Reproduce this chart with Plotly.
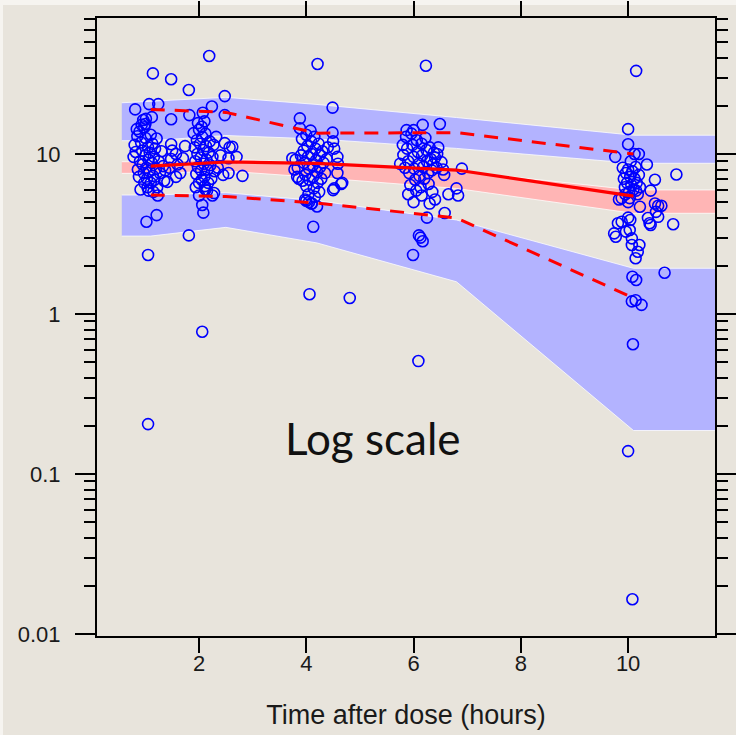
import plotly.graph_objects as go

# ---------------- data ----------------
# simulated prediction-interval bands (vertices in time)
band_t = [0.56, 1.1, 2.5, 4.2, 6.8, 10.1, 11.7]
p05_band_low = [3.07, 3.07, 3.48, 2.78, 1.59, 0.187, 0.187]
p05_band_high = [5.54, 5.54, 5.73, 5.11, 3.87, 1.93, 1.93]
p50_band_low = [7.57, 7.57, 7.83, 7.13, 6.09, 4.26, 4.26]
p50_band_high = [8.95, 8.95, 9.31, 8.79, 7.85, 5.96, 5.96]
p95_band_low = [12.11, 12.11, 13.05, 12.42, 10.84, 8.75, 8.75]
p95_band_high = [20.9, 21.3, 22.6, 20.4, 16.9, 13.1, 13.1]

# observed percentiles
line_t = [1.1, 2.5, 4.2, 6.8, 10.1]
obs_p50 = [8.41, 8.91, 8.75, 7.94, 5.46]
obs_p95 = [19.0, 18.2, 13.5, 13.6, 10.0]
obs_p05 = [5.54, 5.42, 4.94, 3.98, 1.26]

# observations (time, concentration)
obs_time_1 = [1.14, 1.48, 1.81, 0.81, 1.07, 1.24, 1.48, 1.82, 0.96, 1.01, 1.12, 0.93, 0.98, 0.89,
              0.85, 1.21, 1.48, 1.74, 1.57, 1.48, 1.37, 1.57, 1.41, 1.23, 1.21, 1.02, 1.05, 1.05,
              0.80, 0.78, 0.82, 0.86, 0.88, 0.90, 0.92, 0.94, 0.95, 0.97, 0.98, 1.00, 1.00, 1.02,
              1.03, 1.04, 1.05, 1.06, 1.08, 1.08, 1.10, 1.10, 1.12, 1.13, 1.14, 1.16, 1.17, 1.18,
              1.20, 1.22, 1.25, 1.27, 1.30, 1.33, 1.35, 0.91, 1.06, 1.15, 0.84, 1.00, 1.50, 1.60,
              1.45, 1.70, 1.65]
obs_conc_1 = [31.9, 29.3, 25.1, 19.0, 20.5, 20.5, 16.5, 17.5, 16.3, 16.6, 17.0, 15.2, 14.7, 13.8,
              12.9, 12.5, 11.5, 11.2, 10.0, 9.3, 7.9, 7.2, 6.7, 5.5, 4.15, 3.77, 2.34, 0.205,
              11.4, 9.6, 10.3, 8.0, 7.2, 9.0, 11.8, 10.5, 8.6, 7.6, 6.6, 12.6, 9.8, 8.2,
              7.0, 6.2, 11.0, 9.2, 10.2, 7.8, 6.6, 13.2, 8.8, 11.6, 7.3, 9.6, 6.9, 10.8,
              8.1, 6.2, 9.0, 7.6, 10.4, 8.4, 6.8, 6.0, 5.9, 5.8, 14.3, 15.4, 10.5, 8.6,
              8.2, 9.4, 7.6]

obs_time_2 = [2.19, 2.48, 2.07, 2.24, 2.48, 2.05, 2.32, 2.48, 2.57, 2.62, 2.40, 2.55, 2.70, 2.35,
              2.45, 2.55, 2.81, 2.28, 2.06, 2.08, 2.00, 2.12, 2.25, 1.81, 2.06,
              1.90, 1.92, 1.93, 1.95, 1.96, 1.97, 1.98, 2.00, 2.00, 2.02, 2.03, 2.04, 2.05, 2.06,
              2.08, 2.09, 2.10, 2.11, 2.12, 2.13, 2.14, 2.16, 2.17, 2.18, 2.20, 2.21, 2.23, 2.25,
              2.27, 2.29, 1.94, 2.15, 1.98, 2.10]
obs_conc_2 = [41.0, 23.0, 18.1, 19.8, 17.5, 14.8, 12.8, 11.7, 11.0, 11.1, 9.8, 9.4, 9.6, 8.2,
              7.4, 7.6, 7.3, 5.7, 4.8, 4.3, 5.5, 6.0, 5.5, 3.1, 0.775,
              13.5, 11.0, 9.0, 7.5, 12.2, 10.0, 8.3, 6.6, 14.2, 11.6, 9.5, 7.9, 6.9, 12.8,
              10.6, 8.7, 7.2, 6.3, 13.4, 11.2, 9.2, 8.0, 6.6, 10.2, 12.0, 8.5, 7.0, 9.6,
              11.4, 7.8, 6.2, 5.9, 15.6, 16.0]

obs_time_4 = [4.21, 4.49, 3.88, 4.49, 4.50, 4.52, 4.58, 4.59, 3.74, 3.80, 4.58, 4.67, 4.52, 4.13,
              4.06, 4.81, 4.10, 4.50, 4.65, 3.98, 4.05,
              3.88, 3.92, 3.95, 3.96, 3.98, 4.00, 4.00, 4.02, 4.03, 4.05, 4.06, 4.08, 4.09, 4.10,
              4.12, 4.13, 4.14, 4.15, 4.17, 4.18, 4.20, 4.21, 4.23, 4.25, 4.26, 4.28, 4.30, 4.32,
              3.90, 3.93, 4.04, 4.16, 4.24, 3.84, 3.86, 4.35, 4.38, 4.40, 3.78, 3.83, 4.00, 4.10,
              4.20]
obs_conc_4 = [36.5, 19.5, 16.7, 13.6, 12.0, 10.8, 9.6, 8.7, 9.4, 9.2, 7.6, 6.6, 6.1, 3.51,
              1.33, 1.26, 4.9, 5.95, 6.5, 5.2, 5.0,
              14.5, 12.4, 10.5, 8.8, 7.4, 6.3, 13.2, 11.2, 9.6, 8.1, 6.9, 14.0, 12.0, 10.0,
              8.5, 7.2, 6.1, 12.8, 10.8, 9.1, 7.7, 6.6, 11.6, 9.8, 8.3, 7.0, 10.4, 8.8,
              9.8, 6.8, 5.6, 5.4, 5.8, 8.2, 7.0, 7.6, 9.3, 11.0, 8.0, 7.2, 5.1, 4.9,
              4.7]

obs_time_6 = [6.23, 6.49, 6.17, 5.87, 6.00, 6.46, 6.44, 6.52, 6.55, 6.57, 6.90, 5.75, 5.81, 6.65,
              6.83, 6.80, 6.40, 6.58, 6.25, 6.10, 6.17, 6.13, 5.99, 6.09, 6.00, 6.30,
              5.86, 5.88, 5.90, 5.92, 5.94, 5.96, 5.98, 6.00, 6.01, 6.03, 6.05, 6.06, 6.08, 6.10,
              6.11, 6.13, 6.15, 6.16, 6.18, 6.20, 6.22, 6.24, 6.25, 6.27, 6.28, 6.30, 6.32, 6.34,
              6.36, 6.38, 6.40, 6.43, 5.90, 6.15, 6.35, 5.84, 5.80]
obs_conc_6 = [35.6, 15.4, 15.2, 14.1, 14.1, 11.0, 10.0, 8.9, 8.0, 7.4, 8.1, 8.7, 9.85, 5.6,
              5.5, 6.1, 5.2, 4.28, 4.0, 3.1, 2.85, 3.0, 2.34, 0.508, 5.0, 4.9,
              12.8, 10.8, 9.0, 7.6, 6.4, 13.4, 11.4, 9.6, 8.1, 6.9, 5.9, 12.2, 10.3, 8.7,
              7.3, 6.2, 11.6, 9.8, 8.3, 7.0, 12.6, 10.6, 9.0, 7.6, 6.5, 11.0, 9.3, 7.9,
              8.6, 10.2, 9.5, 8.2, 5.6, 5.5, 5.8, 8.2, 11.4]

obs_time_10 = [10.15, 10.00, 10.00, 9.76, 10.12, 10.20, 10.35, 10.90, 10.50, 10.42, 9.83, 10.00,
               10.22, 10.50, 10.56, 10.62, 10.52, 10.56, 10.37, 10.42, 10.84, 10.00, 10.04, 9.74,
               9.77, 9.81, 9.88, 10.03, 9.96, 10.07, 10.07, 10.21, 10.18, 10.14, 10.08, 10.15,
               10.68, 10.07, 10.14, 10.25, 10.09, 10.00, 10.08, 9.88, 10.03, 10.40,
               9.90, 9.92, 9.94, 9.96, 9.98, 10.00, 10.02, 10.04, 10.06, 10.08, 10.10, 10.12,
               10.14, 10.16, 10.18, 10.20, 10.22, 10.05, 10.15, 9.95]
obs_conc_10 = [33.1, 14.3, 11.5, 9.6, 10.0, 10.0, 8.6, 7.45, 6.9, 5.9, 5.2, 5.0,
               4.68, 4.9, 4.75, 4.75, 4.35, 4.05, 3.98, 3.6, 3.64, 4.0, 3.87, 3.19,
               3.04, 3.69, 3.77, 3.35, 3.27, 2.97, 2.7, 2.7, 2.45, 2.23, 1.71, 1.63,
               1.81, 1.2, 1.22, 1.14, 0.647, 0.139, 0.0165, 5.3, 5.3, 3.69,
               8.2, 7.0, 6.2, 7.6, 6.6, 8.0, 5.8, 7.2, 6.4, 7.8, 6.0, 7.0,
               8.3, 6.6, 5.6, 7.4, 6.2, 9.0, 5.9, 5.6]

obs_time = obs_time_1 + obs_time_2 + obs_time_4 + obs_time_6 + obs_time_10
obs_conc = obs_conc_1 + obs_conc_2 + obs_conc_4 + obs_conc_6 + obs_conc_10

y_tickvals = [0.01, 0.1, 1, 10]
y_ticktext = ["0.01", "0.1", "1", "10"]
y_minor = [m * d for d in (0.01, 0.1, 1, 10) for m in range(2, 10)]
x_tickvals = [2, 4, 6, 8, 10]

# ---------------- figure ----------------
BG = "#E8E4DC"
BLUE_BAND = "#B3B3FF"
PINK_BAND = "#FFB5B5"
EDGE = dict(color="rgba(255,255,255,0.75)", width=1)

fig = go.Figure()


def band(low, high, color):
    fig.add_trace(go.Scatter(
        x=band_t + band_t[::-1], y=high + low[::-1],
        fill="toself", fillcolor=color, line=EDGE, mode="lines",
        hoverinfo="skip"))


band(p95_band_low, p95_band_high, BLUE_BAND)
band(p05_band_low, p05_band_high, BLUE_BAND)
band(p50_band_low, p50_band_high, PINK_BAND)

fig.add_trace(go.Scatter(
    x=obs_time, y=obs_conc, mode="markers",
    marker=dict(symbol="circle-open", size=11, color="#0000FF",
                line=dict(width=1.6, color="#0000FF"))))

fig.add_trace(go.Scatter(x=line_t, y=obs_p95, mode="lines",
                         line=dict(color="#FF0000", width=3, dash="14px,10px")))
fig.add_trace(go.Scatter(x=line_t, y=obs_p05, mode="lines",
                         line=dict(color="#FF0000", width=3, dash="14px,10px")))
fig.add_trace(go.Scatter(x=line_t, y=obs_p50, mode="lines",
                         line=dict(color="#FF0000", width=3.2)))

axis_font = dict(family="Liberation Sans, Arial, sans-serif", size=22, color="#1a1a1a")

fig.update_layout(
    width=736, height=735,
    margin=dict(l=97, r=21, t=18, b=99, autoexpand=False),
    paper_bgcolor=BG, plot_bgcolor=BG,
    showlegend=False,
    xaxis=dict(
        range=[0.098, 11.62], tickvals=x_tickvals, automargin=False,
        ticks="outside", ticklen=15, tickwidth=2, tickcolor="black",
        showline=True, linewidth=2, linecolor="black", mirror="allticks",
        showgrid=False, zeroline=False, tickfont=axis_font,
        ticklabelstandoff=-8,
        title=dict(text="Time after dose (hours)",
                   font=dict(family="Liberation Sans, Arial, sans-serif", size=27, color="#1a1a1a"),
                   standoff=30),
    ),
    yaxis=dict(
        type="log", range=[-2.0125, 1.85], automargin=False,
        tickvals=y_tickvals, ticktext=y_ticktext,
        ticks="outside", ticklen=20, tickwidth=2, tickcolor="black",
        showline=True, linewidth=2, linecolor="black", mirror="allticks",
        showgrid=False, zeroline=False, tickfont=axis_font,
        ticklabelstandoff=10,
        minor=dict(tickvals=y_minor, ticks="outside", ticklen=11, tickwidth=1.5,
                   tickcolor="black", showgrid=False),
    ),
    annotations=[dict(
        text="Log scale", xref="paper", yref="paper", x=0.4466, y=0.32,
        xanchor="center", yanchor="middle", showarrow=False,
        font=dict(family="Lato, sans-serif", size=44, color="#111111"))],
    shapes=[
        dict(type="rect", xref="paper", yref="paper", x0=-0.2, x1=1.1,
             y0=1 + 13 / 618, y1=1.1, fillcolor="#F6F4F0", line=dict(width=0), layer="below"),
        dict(type="rect", xref="paper", yref="paper", x0=-0.2, x1=-94 / 618,
             y0=-0.2, y1=1.1, fillcolor="#F6F4F0", line=dict(width=0), layer="below"),
    ],
)

fig.write_html("out.html", config={"displayModeBar": False},
               post_script="document.body.style.margin='0';")
